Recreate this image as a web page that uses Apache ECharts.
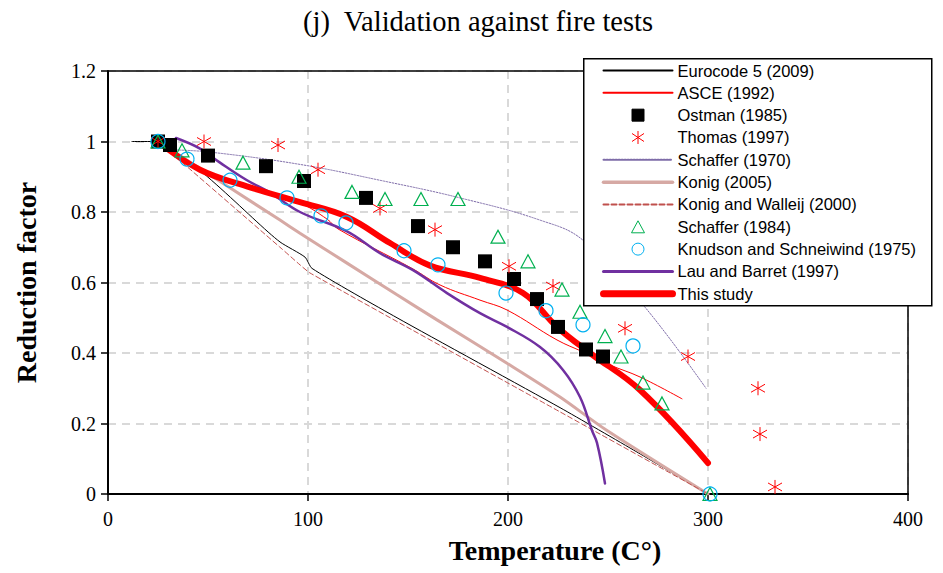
<!DOCTYPE html>
<html><head><meta charset="utf-8">
<script src="https://cdn.jsdelivr.net/npm/echarts@6/dist/echarts.min.js"></script>
<style>html,body{margin:0;padding:0;background:#fff}#c{width:943px;height:573px}</style>
</head><body><div id="c"></div>
<script>
// ---- data (temperature °C, reduction factor) ----
const eurocode5 = [[12,1.0],[22,1.0],[86,0.715],[98.5,0.672],[102,0.64],[144.5,0.5],[226,0.245],[264.5,0.119],[300,0]];
const asce = [[25,1.0],[46,0.92],[71,0.87],[96,0.825],[109.5,0.78],[115,0.752],[152,0.64],[166,0.593],[186,0.55],[199.5,0.522],[224.5,0.437],[237.5,0.403],[251,0.366],[266,0.332],[287,0.27]];
const ostman = [[25,1.0],[31,0.99],[50,0.96],[79,0.93],[98,0.888],[129,0.84],[155,0.76],[172.5,0.70],[188.5,0.66],[203,0.61],[214.5,0.553],[225,0.474],[239,0.41],[247.5,0.39]];
const thomas = [[25,1.0],[48,1.0],[85,0.99],[105,0.92],[136,0.81],[163.5,0.75],[200.5,0.646],[222.5,0.59],[258.5,0.47],[290,0.39],[325,0.30],[326,0.17],[333.5,0.02]];
const schaffer1970 = [[34,0.976],[51,0.97],[96,0.935],[136,0.89],[176,0.84],[216,0.777],[237.5,0.72],[268.5,0.53],[299,0.30]];
const konig2005 = [[25,1.0],[86,0.777],[96,0.74],[119.5,0.655],[144.5,0.565],[164.5,0.494],[199.5,0.371],[226,0.275],[249.5,0.18],[300,0]];
const konigWalleij = [[25,1.0],[86,0.70],[96,0.65],[101,0.627],[226,0.233],[300,0]];
const schaffer1984 = [[25,1.0],[37,0.975],[67.5,0.94],[95.5,0.90],[122,0.857],[138.5,0.837],[156.5,0.837],[175,0.837],[195,0.73],[210,0.66],[227,0.58],[236,0.517],[248.5,0.448],[256.5,0.39],[267.5,0.316],[277,0.257],[301,0]];
const knudson = [[25,1.0],[39.5,0.95],[61,0.89],[89.5,0.84],[106.5,0.789],[119,0.769],[148,0.69],[165,0.65],[199,0.57],[219,0.52],[237.5,0.48],[262.5,0.42],[301,0]];
const lauBarret = [[34,1.01],[46,0.98],[56,0.94],[69.5,0.89],[81,0.855],[96,0.80],[119.5,0.745],[136,0.683],[152.5,0.635],[169.5,0.57],[186,0.513],[199.5,0.474],[216,0.417],[227.5,0.352],[236,0.275],[242,0.18],[244.5,0.145],[248.5,0.03]];
const thisStudy = [[25,1.0],[46,0.92],[71,0.87],[96,0.828],[119.5,0.786],[141,0.712],[161,0.648],[186,0.613],[207.5,0.57],[224.5,0.474],[241,0.40],[266,0.295],[300,0.088]];

const names = ['Eurocode 5 (2009)','ASCE (1992)','Ostman (1985)','Thomas (1997)','Schaffer (1970)','Konig (2005)','Konig and Walleij (2000)','Schaffer (1984)','Knudson and Schneiwind (1975)','Lau and Barret (1997)','This study'];

const serif = 'Liberation Serif';
const asterisk = 'path://M7,0 L7,14 M1,3 L13,11 M1,11 L13,3';
// legend icons (69x14 box, marker centred)
const legSquare = 'path://M0,0M69,14M28.5,1L40.5,1L40.5,13L28.5,13Z';
const legTri = 'path://M0,0M69,14M34.5,1L41,13L28,13Z';
const legCircle = 'path://M0,0M69,14M40.5,7A6,6,0,1,1,28.5,7A6,6,0,1,1,40.5,7Z';
const legStar = 'path://M0,0M69,14M34.5,0.5L34.5,13.5M28.5,3L40.5,11M28.5,11L40.5,3';

function lineS(name, data, color, width, type, smooth, z) {
  return { name, type: 'line', data, symbol: 'none', showSymbol: false, smooth: smooth,
    lineStyle: { color, width, type, cap: 'round' }, itemStyle: { color }, z: z, emphasis: { disabled: true } };
}
function scat(name, data, symbol, size, fill, stroke, bw) {
  return { name, type: 'scatter', data, symbol, symbolSize: size, clip: false,
    itemStyle: { color: fill, borderColor: stroke, borderWidth: bw, opacity: 1 }, z: 4, emphasis: { disabled: true } };
}
const hide = { opacity: 0 };
const legendData = [
  { name: names[0], itemStyle: hide },
  { name: names[1], itemStyle: hide },
  { name: names[2], icon: legSquare },
  { name: names[3], icon: legStar },
  { name: names[4], itemStyle: hide },
  { name: names[5], itemStyle: hide, lineStyle: { width: 3.5 } },
  { name: names[6], itemStyle: hide },
  { name: names[7], icon: legTri },
  { name: names[8], icon: legCircle },
  { name: names[9], itemStyle: hide, lineStyle: { width: 3 } },
  { name: names[10], itemStyle: hide, lineStyle: { width: 7 } }
];
const plainAxis = { show: true, axisLine: { show: true, onZero: false, lineStyle: { color: '#000', width: 1.5 } },
  axisTick: { show: false }, axisLabel: { show: false }, splitLine: { show: false } };

const chart = echarts.init(document.getElementById('c'), null, { renderer: 'svg' });
chart.setOption({
  animation: false,
  backgroundColor: '#fff',
  title: { text: '(j)  Validation against fire tests', left: 298, top: 2,
    textStyle: { fontFamily: serif, fontSize: 28.5, fontWeight: 'normal', color: '#000' } },
  grid: { left: 108, right: 35, top: 71, bottom: 79, show: false, containLabel: false },
  xAxis: [{ type: 'value', min: 0, max: 400, interval: 100,
    name: 'Temperature (C°)', nameLocation: 'middle', nameGap: 42,
    nameTextStyle: { fontFamily: serif, fontSize: 28, fontWeight: 'bold', color: '#000', padding: [0, 0, 0, 94] },
    axisLine: { onZero: false, lineStyle: { color: '#000', width: 2 } },
    axisTick: { show: true, length: 7, lineStyle: { color: '#000', width: 1.5 } },
    axisLabel: { fontFamily: serif, fontSize: 20, color: '#000', margin: 15 },
    splitLine: { show: true, lineStyle: { color: '#D9D9D9', width: 2, type: [8, 6] } } },
    Object.assign({ type: 'value', min: 0, max: 400, position: 'top' }, plainAxis)],
  yAxis: [{ type: 'value', min: 0, max: 1.2, interval: 0.2,
    name: 'Reduction factor', nameLocation: 'middle', nameGap: 68,
    nameTextStyle: { fontFamily: serif, fontSize: 28, fontWeight: 'bold', color: '#000' },
    axisLine: { show: true, onZero: false, lineStyle: { color: '#000', width: 2 } },
    axisTick: { show: true, length: 7, lineStyle: { color: '#000', width: 1.5 } },
    axisLabel: { fontFamily: serif, fontSize: 20, color: '#000', margin: 12,
      formatter: v => String(Number(v.toFixed(1))) },
    splitLine: { show: true, lineStyle: { color: '#D9D9D9', width: 2, type: [8, 6] } } },
    Object.assign({ type: 'value', min: 0, max: 1.2, position: 'right' }, plainAxis)],
  graphic: { elements: [ { type: 'rect', left: 583, top: 58, z: 8, shape: { x: 0, y: 0, width: 348, height: 247 },
      style: { fill: '#fff', stroke: '#000', lineWidth: 1.5 } } ] },
  legend: { orient: 'vertical', left: 600, top: 62, padding: 0, itemWidth: 69, itemHeight: 14, itemGap: 5.33, z: 10,
    data: legendData, selectedMode: false,
    itemStyle: { borderWidth: 1 },
    textStyle: { fontFamily: 'Liberation Sans', fontSize: 16.5, color: '#000' } },
  series: [
    lineS(names[0], eurocode5, '#000000', 1, 'solid', 0.2, 2),
    lineS(names[1], asce, '#FF0000', 1, 'solid', 0.4, 3),
    scat(names[2], ostman, 'rect', 14, '#000000', '#000000', 0),
    scat(names[3], thomas, asterisk, 14, 'rgba(0,0,0,0)', '#FF0000', 1),
    lineS(names[4], schaffer1970, '#7E6CA8', 1, [1.5, 1.5], 0.4, 2),
    lineS(names[5], konig2005, '#D6A9A4', 3, 'solid', 0.3, 2),
    lineS(names[6], konigWalleij, '#C0504D', 1, [5, 3], 0.2, 2),
    scat(names[7], schaffer1984, 'triangle', [14, 13], 'rgba(0,0,0,0)', '#00B050', 1.2),
    scat(names[8], knudson, 'circle', 14, 'rgba(0,0,0,0)', '#00B0F0', 1.2),
    lineS(names[9], lauBarret, '#7030A0', 2.5, 'solid', 0.4, 3),
    lineS(names[10], thisStudy, '#FF0000', 6, 'solid', 0.4, 3)
  ]
});
</script></body></html>
